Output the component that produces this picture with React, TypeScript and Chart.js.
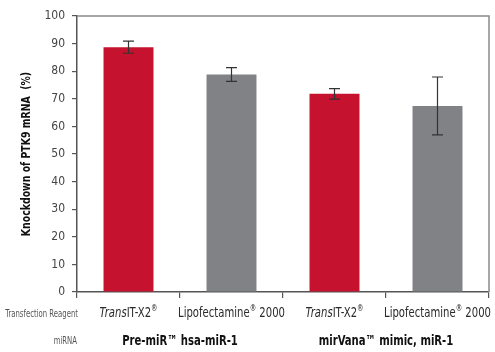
import React, { useEffect, useRef } from "react";
import { Chart, registerables } from "chart.js";

Chart.register(...registerables);

const categories = ["TransIT-X2®", "Lipofectamine® 2000", "TransIT-X2®", "Lipofectamine® 2000"];
const knockdown = [88.7, 78.8, 71.8, 67.4];
const errors = [2.2, 2.5, 1.9, 10.5];
const groups = ["Pre-miR™ hsa-miR-1", "mirVana™ mimic, miR-1"];
const yTicks = [0, 10, 20, 30, 40, 50, 60, 70, 80, 90, 100];
const barColors = ["#C5122F", "#808285", "#C5122F", "#808285"];
const yTitle = "Knockdown of PTK9 mRNA  (%)";

const FONT = '"DejaVu Sans Condensed", "DejaVu Sans", sans-serif';
const SQUEEZE = 0.8;

type Part = { t: string; f: string; dy: number };

// draws horizontally condensed text made of parts, anchored at (x, y)
function drawParts(ctx: any, parts: Part[], x: number, y: number, align: "left" | "center" | "right") {
  let total = 0;
  const widths = parts.map((p) => {
    ctx.font = p.f;
    const w = ctx.measureText(p.t).width;
    total += w;
    return w;
  });
  ctx.save();
  ctx.translate(x, y);
  ctx.scale(SQUEEZE, 1);
  ctx.textAlign = "left";
  ctx.textBaseline = "middle";
  let px = align === "left" ? 0 : align === "center" ? -total / 2 : -total;
  parts.forEach((p, k) => {
    ctx.font = p.f;
    ctx.fillText(p.t, px, p.dy);
    px += widths[k];
  });
  ctx.restore();
}

const overlay = {
  id: "overlay",
  afterDatasetsDraw(chart: any) {
    const { ctx, chartArea, scales } = chart;
    const x = scales.x;
    const y = scales.y;
    ctx.save();
    ctx.strokeStyle = "#8a8a8a";
    ctx.lineWidth = 1.5;
    ctx.beginPath();
    ctx.moveTo(chartArea.left, chartArea.top);
    ctx.lineTo(chartArea.right, chartArea.top);
    ctx.lineTo(chartArea.right, chartArea.bottom);
    ctx.stroke();
    ctx.strokeStyle = "#333";
    ctx.lineWidth = 1.2;
    knockdown.forEach((v, i) => {
      const cx = x.getPixelForValue(i);
      const yt = y.getPixelForValue(v + errors[i]);
      const yb = y.getPixelForValue(v - errors[i]);
      ctx.beginPath();
      ctx.moveTo(cx, yt);
      ctx.lineTo(cx, yb);
      ctx.moveTo(cx - 5.5, yt);
      ctx.lineTo(cx + 5.5, yt);
      ctx.moveTo(cx - 5.5, yb);
      ctx.lineTo(cx + 5.5, yb);
      ctx.stroke();
    });
    ctx.restore();
  },
  afterDraw(chart: any) {
    const { ctx, scales, chartArea } = chart;
    const x = scales.x;
    const left = chartArea.left;
    ctx.save();
    ctx.save();
    ctx.translate(27, (chartArea.top + chartArea.bottom) / 2);
    ctx.rotate(-Math.PI / 2);
    ctx.fillStyle = "#111";
    drawParts(ctx, [{ t: yTitle, f: `bold 13px ${FONT}`, dy: 0 }], 0, 0, "center");
    ctx.restore();

    const row1 = 313;
    const row2 = 341;
    ctx.fillStyle = "#555";
    drawParts(ctx, [{ t: "Transfection Reagent", f: `9.6px ${FONT}`, dy: 0 }], left + 1, row1 + 1, "right");
    drawParts(ctx, [{ t: "miRNA", f: `9.6px ${FONT}`, dy: 0 }], left, row2, "right");

    ctx.fillStyle = "#2a2a2a";
    const size = 14;
    categories.forEach((label, i) => {
      const cx = x.getPixelForValue(i);
      let parts: Part[];
      if (label.startsWith("Trans")) {
        parts = [
          { t: "Trans", f: `italic ${size}px ${FONT}`, dy: 0 },
          { t: "IT-X2", f: `${size}px ${FONT}`, dy: 0 },
          { t: "®", f: `${size - 5}px ${FONT}`, dy: -4 },
        ];
      } else {
        const [a, b] = label.split("®");
        parts = [
          { t: a, f: `${size}px ${FONT}`, dy: 0 },
          { t: "®", f: `${size - 5}px ${FONT}`, dy: -4 },
          { t: b, f: `${size}px ${FONT}`, dy: 0 },
        ];
      }
      drawParts(ctx, parts, cx, row1, "center");
    });

    ctx.fillStyle = "#111";
    groups.forEach((g, gi) => {
      const cx = (x.getPixelForValue(gi * 2) + x.getPixelForValue(gi * 2 + 1)) / 2;
      drawParts(ctx, [{ t: g, f: `bold 14px ${FONT}`, dy: 0 }], cx, row2, "center");
    });
    ctx.restore();
  },
};

export default function App() {
  const ref = useRef<HTMLCanvasElement | null>(null);
  useEffect(() => {
    document.body.style.margin = "0";
    const chart = new Chart(ref.current as HTMLCanvasElement, {
      type: "bar",
      data: {
        labels: categories,
        datasets: [
          {
            data: knockdown,
            backgroundColor: barColors,
            borderWidth: 0,
            barPercentage: 0.97,
            categoryPercentage: 0.5,
          },
        ],
      },
      options: {
        animation: false,
        responsive: false,
        layout: { padding: { left: 0, right: 6, top: 16, bottom: 0 } },
        plugins: { legend: { display: false }, tooltip: { enabled: false } },
        scales: {
          x: {
            offset: true,
            grid: {
              offset: true,
              drawOnChartArea: false,
              drawTicks: true,
              tickLength: 6,
              color: "#555",
              lineWidth: 1.2,
            },
            border: { display: true, color: "#555", width: 1.5 },
            ticks: { display: false },
            afterFit: (s: any) => {
              s.height = 60;
            },
          },
          y: {
            min: 0,
            max: 100,
            afterBuildTicks: (s: any) => {
              s.ticks = yTicks.map((v) => ({ value: v }));
            },
            grid: {
              drawOnChartArea: false,
              drawTicks: true,
              tickLength: 5,
              color: "#555",
              lineWidth: 1.2,
            },
            border: { display: true, color: "#555", width: 1.5 },
            ticks: {
              color: "#444",
              padding: 7,
              font: { family: FONT, size: 12 },
            },
            afterFit: (s: any) => {
              s.width = 77;
            },
          },
        },
      },
      plugins: [overlay],
    });
    return () => chart.destroy();
  }, []);
  return (
    <div style={{ position: "relative", width: 495, height: 352 }}>
      <canvas ref={ref} width={495} height={352} style={{ display: "block" }} />
    </div>
  );
}
